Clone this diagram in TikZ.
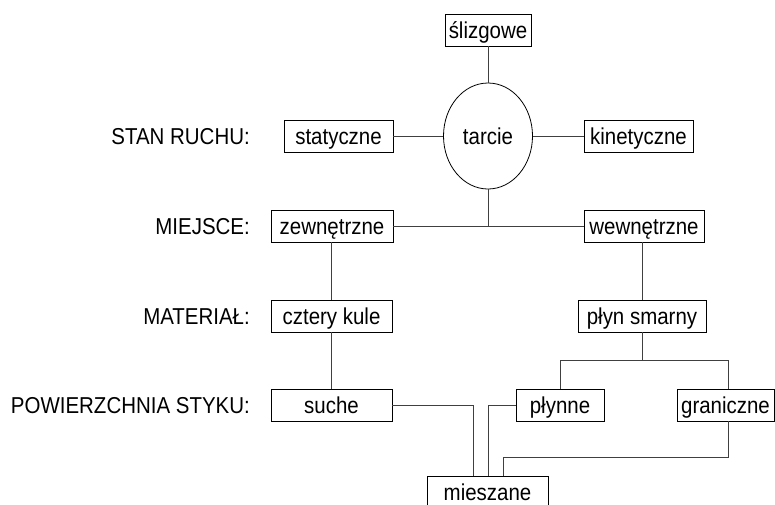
\documentclass[tikz,border=0pt]{standalone}
\usepackage{fontspec}
\setmainfont[FakeStretch=0.89]{Liberation Sans}
\usetikzlibrary{shapes.geometric}
\begin{document}
\begin{tikzpicture}[x=1pt,y=-1pt,
  txt/.style={font=\fontsize{23}{25}\selectfont, text height=16pt, text depth=0pt},
  box/.style={txt, draw=black, line width=0.8pt, inner sep=0pt, minimum height=32pt, fill=white},
  lbl/.style={txt, anchor=east, inner sep=0pt},
  conn/.style={draw=black!75, line width=0.9pt}]
\useasboundingbox (0,0) rectangle (775,504);
\node[box, minimum width=86pt] (sl) at (488,30) {ślizgowe};
\node[txt, draw=black, line width=0.8pt, ellipse, inner sep=0pt, minimum width=89pt, minimum height=106pt] (tar) at (488,136) {tarcie};
\node[box, minimum width=109pt] (stat) at (338.5,136) {statyczne};
\node[box, minimum width=109pt] (kin) at (638.5,136) {kinetyczne};
\node[box, minimum width=122pt] (zew) at (332,226) {zewnętrzne};
\node[box, minimum width=120pt] (wew) at (644,226) {wewnętrzne};
\node[box, minimum width=121pt] (ck) at (331.5,316) {cztery kule};
\node[box, minimum width=128pt] (ps) at (642,316) {płyn smarny};
\node[box, minimum width=121pt] (su) at (331.5,405) {suche};
\node[box, minimum width=88pt] (pl) at (560,405) {płynne};
\node[box, minimum width=97pt] (gr) at (725.5,405) {graniczne};
\node[box, minimum width=121pt] (mi) at (487.5,492) {mieszane};

\node[lbl] (l1) at (250,136) {STAN RUCHU:};
\node[lbl] (l2) at (250,226) {MIEJSCE:};
\node[lbl] (l3) at (250,316) {MATERIAŁ:};
\node[lbl] (l4) at (250,405) {POWIERZCHNIA STYKU:};

\coordinate (j) at (642,360);
\coordinate (a) at (473,405);
\coordinate (b) at (488,405);
\coordinate (c) at (503,457);

\draw[conn] (sl.south) -- (tar.north);
\draw[conn] (stat.east) -- (tar.west);
\draw[conn] (tar.east) -- (kin.west);
\draw[conn] (zew.east) -- (wew.west);
\draw[conn] (tar.south) -- (tar.south |- zew.east);
\draw[conn] (ck.north |- zew.south) -- (ck.north);
\draw[conn] (ck.south) -- (su.north);
\draw[conn] (ps.north |- wew.south) -- (ps.north);
\draw[conn] (ps.south) -- (j);
\draw[conn] (pl.north) -- (pl.north |- j) -- (j -| 728,0) -- (728,0 |- gr.north);
\draw[conn] (su.east) -- (a) -- (a |- mi.north);
\draw[conn] (pl.west) -- (b) -- (b |- mi.north);
\draw[conn] (728,0 |- gr.south) -- (728,0 |- c) -- (c) -- (c |- mi.north);
\end{tikzpicture}
\end{document}
